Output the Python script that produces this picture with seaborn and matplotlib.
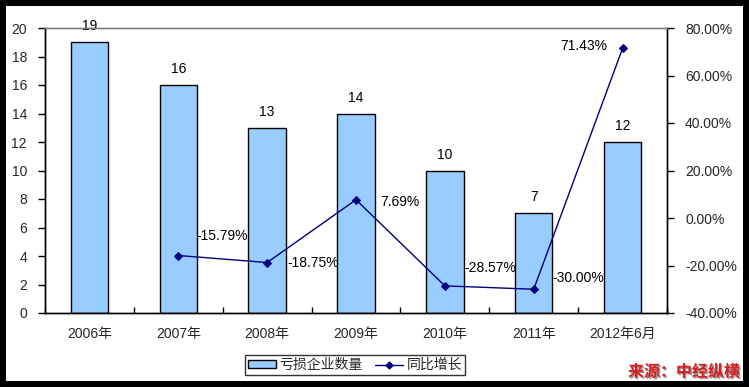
import numpy as np
import pandas as pd
import seaborn as sns
import matplotlib
matplotlib.use("Agg")
import matplotlib.pyplot as plt
from matplotlib.patches import Rectangle, Patch
from matplotlib.lines import Line2D
import matplotlib.patheffects as pe

categories = ["2006年", "2007年", "2008年", "2009年", "2010年", "2011年", "2012年6月"]
loss_counts = [19, 16, 13, 14, 10, 7, 12]
yoy_growth = [np.nan, -15.79, -18.75, 7.69, -28.57, -30.00, 71.43]
growth_labels = ["", "-15.79%", "-18.75%", "7.69%", "-28.57%", "-30.00%", "71.43%"]
left_ticks = [0, 2, 4, 6, 8, 10, 12, 14, 16, 18, 20]
right_ticks = [-40, -20, 0, 20, 40, 60, 80]

sns.set_style("white")
plt.rcParams['font.family'] = ['Liberation Sans', 'Noto Sans CJK SC', 'DejaVu Sans']

df = pd.DataFrame({"cat": categories, "count": loss_counts,
                   "growth": yoy_growth, "pos": np.arange(len(categories))})

fig = plt.figure(figsize=(7.49, 3.87), dpi=100)
ax = fig.add_axes([45/749, 1-313/387, (667-45)/749, (313-28)/387])

sns.barplot(data=df, x="cat", y="count", ax=ax, color="#99CCFF",
            edgecolor="black", linewidth=1.0, width=0.42, saturation=1)
ax.set_xlim(-0.5, len(categories)-0.5)
ax.set_ylim(0, 20)
ax.set_yticks(left_ticks)
ax.set_xlabel("")
ax.set_ylabel("")
ax.tick_params(axis='y', direction='out', length=5, width=1, color='black',
               labelsize=10, pad=8, left=True)
ax.set_xticks(np.arange(len(categories)))
ax.set_xticklabels(categories)
ax.tick_params(axis='x', length=0, labelsize=10, pad=10)
ax.set_xticks(np.arange(-0.5, len(categories)), minor=True)
ax.tick_params(axis='x', which='minor', direction='in', length=4, width=1, color='black', bottom=True)

for i, v in enumerate(loss_counts):
    ax.annotate(str(v), (i, v), xytext=(0, 11.5), textcoords='offset points',
                ha='center', va='center', fontsize=10, color='black')

ax2 = ax.twinx()
sns.lineplot(data=df, x="pos", y="growth", ax=ax2, color="#000080",
             marker="D", markersize=4, linewidth=1.0, markeredgecolor="#000080")
ax2.set_ylim(-40, 80)
ax2.set_yticks(right_ticks)
ax2.set_yticklabels([f"{t:.2f}%" for t in right_ticks])
ax2.set_ylabel("")
ax2.set_xlabel("")
ax2.set_xlim(-0.5, len(categories)-0.5)
ax2.tick_params(axis='y', direction='out', length=5, width=1, color='black',
                labelsize=10, pad=8, right=True)

offsets = [None, (18, 20, 'left'), (20, 0, 'left'), (24, -2, 'left'),
           (20, 18, 'left'), (19, 11, 'left'), (-15, 2, 'right')]
for i, (val, lab) in enumerate(zip(yoy_growth, growth_labels)):
    if offsets[i] is None:
        continue
    dx, dy, ha = offsets[i]
    ax2.annotate(lab, (i, val), xytext=(dx*0.72, dy*0.72), textcoords='offset points',
                 ha=ha, va='center', fontsize=10, color='black')

for a in (ax, ax2):
    for s in a.spines.values():
        s.set_linewidth(1.0)
        s.set_color('black')
    a.spines['top'].set_color('#808080')
    a.grid(False)

handles = [Patch(facecolor="#99CCFF", edgecolor="black", linewidth=1.0),
           Line2D([0], [0], color="#000080", marker="D", markersize=3.5, linewidth=1.0)]
leg = fig.legend(handles, ["亏损企业数量", "同比增长"], loc='center',
                 bbox_to_anchor=(355/749, 1-365/387), ncol=2, frameon=True,
                 fancybox=False, edgecolor='black', fontsize=10, handlelength=2.0,
                 handleheight=0.5, handletextpad=0.25, columnspacing=0.9, borderpad=0.2,
                 borderaxespad=0.2)
leg.get_frame().set_linewidth(1.0)

fig.text(740/749, 1-372/387, "来源：中经纵横", ha='right', va='center', fontsize=11.5,
         fontweight='bold', color='#d42020',
         path_effects=[pe.withSimplePatchShadow(offset=(1, -1), shadow_rgbFace='#555555', alpha=0.6)])

fw, fh = 749, 387
b = 6
for (x0, y0, w, h) in [(0, 0, fw, b), (0, fh-b, fw, b), (0, 0, b, fh), (fw-b, 0, b, fh)]:
    fig.patches.append(Rectangle((x0/fw, y0/fh), w/fw, h/fh, transform=fig.transFigure,
                                 facecolor='black', edgecolor='none', zorder=10))

fig.savefig("out.png", dpi=100)
